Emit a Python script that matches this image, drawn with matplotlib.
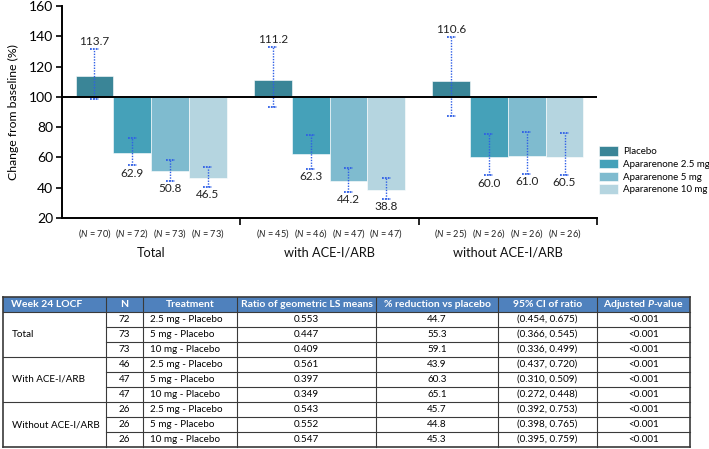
import matplotlib
matplotlib.use("Agg")
import matplotlib.pyplot as plt
from matplotlib.patches import Rectangle, Patch
import numpy as np

plt.rcParams['font.family'] = ['Lato', 'DejaVu Sans']
plt.rcParams['mathtext.fontset'] = 'custom'
plt.rcParams['mathtext.rm'] = 'Lato'
plt.rcParams['mathtext.it'] = 'Lato:italic'
plt.rcParams['mathtext.bf'] = 'Lato:bold'
plt.rcParams['mathtext.bfit'] = 'Lato:italic:bold'

# ---------------- data ----------------
groups = ["Total", "with ACE-I/ARB", "without ACE-I/ARB"]
treatments = ["Placebo", "Apararenone 2.5 mg", "Apararenone 5 mg", "Apararenone 10 mg"]
values = {
    "Placebo":            [113.7, 111.2, 110.6],
    "Apararenone 2.5 mg": [62.9, 62.3, 60.0],
    "Apararenone 5 mg":   [50.8, 44.2, 61.0],
    "Apararenone 10 mg":  [46.5, 38.8, 60.5],
}
ci_low = {
    "Placebo":            [98.5, 93.0, 87.5],
    "Apararenone 2.5 mg": [54.7, 52.3, 48.1],
    "Apararenone 5 mg":   [44.4, 37.4, 49.0],
    "Apararenone 10 mg":  [40.7, 32.7, 48.6],
}
ci_high = {
    "Placebo":            [131.4, 132.7, 139.3],
    "Apararenone 2.5 mg": [72.7, 74.5, 75.4],
    "Apararenone 5 mg":   [58.2, 53.0, 76.7],
    "Apararenone 10 mg":  [53.8, 46.2, 76.0],
}
n_counts = {
    "Placebo":            [70, 45, 25],
    "Apararenone 2.5 mg": [72, 46, 26],
    "Apararenone 5 mg":   [73, 47, 26],
    "Apararenone 10 mg":  [73, 47, 26],
}
baseline = 100
colors = ["#3a8597", "#45a1b9", "#7fbbcf", "#b5d5e0"]
yticks = [20, 40, 60, 80, 100, 120, 140, 160]

table_header = ["Week 24 LOCF", "N", "Treatment", "Ratio of geometric LS means",
                "% reduction vs placebo", "95% CI of ratio", r"Adjusted $\mathbfit{P}$-value"]
table_groups = ["Total", "With ACE-I/ARB", "Without ACE-I/ARB"]
table_n = [72, 73, 73, 46, 47, 47, 26, 26, 26]
table_treat = ["2.5 mg - Placebo", "5 mg - Placebo", "10 mg - Placebo"] * 3
table_ratio = ["0.553", "0.447", "0.409", "0.561", "0.397", "0.349", "0.543", "0.552", "0.547"]
table_red = ["44.7", "55.3", "59.1", "43.9", "60.3", "65.1", "45.7", "44.8", "45.3"]
table_ci = ["(0.454, 0.675)", "(0.366, 0.545)", "(0.336, 0.499)", "(0.437, 0.720)",
            "(0.310, 0.509)", "(0.272, 0.448)", "(0.392, 0.753)", "(0.398, 0.765)",
            "(0.395, 0.759)"]
table_p = ["<0.001"] * 9

# ---------------- figure ----------------
W, H = 709, 449
fig = plt.figure(figsize=(W / 100, H / 100), dpi=100)

def px_axes(l, t, r, b):
    return fig.add_axes([l / W, 1 - b / H, (r - l) / W, (b - t) / H])

ax = px_axes(62, 6, 597, 218)
bw = 0.212
x = np.arange(len(groups))
offsets = (np.arange(len(treatments)) - 1.5) * bw
ebcolor = "#2f5fe6"

for i, t in enumerate(treatments):
    xs = x + offsets[i]
    v = np.array(values[t])
    ax.bar(xs, v - baseline, bottom=baseline, width=bw, color=colors[i],
           edgecolor="white", linewidth=0.4, zorder=2)
    lo = np.array(ci_low[t]); hi = np.array(ci_high[t])
    ax.vlines(xs, lo, hi, colors=ebcolor, linestyles=(0, (1, 1)), linewidth=1.0, zorder=4)
    ax.hlines(np.concatenate([lo, hi]), np.concatenate([xs, xs]) - 0.025,
              np.concatenate([xs, xs]) + 0.025, colors=ebcolor,
              linestyles=(0, (1, 0.6)), linewidth=1.3, zorder=4)
    for j in range(len(groups)):
        if v[j] >= baseline:
            ax.annotate(f"{v[j]:.1f}", (xs[j], hi[j]), xytext=(0, 1.5),
                        textcoords="offset points", ha="center", va="bottom",
                        fontsize=8.5, color="#222222")
        else:
            ax.annotate(f"{v[j]:.1f}", (xs[j], lo[j]), xytext=(0, -1.5),
                        textcoords="offset points", ha="center", va="top",
                        fontsize=8.5, color="#222222")
        ax.text(xs[j], -0.072, f"($N$ = {n_counts[t][j]})", transform=ax.get_xaxis_transform(),
                ha="center", va="center", fontsize=6.6, color="#222222")

for j, g in enumerate(groups):
    ax.text(x[j], -0.165, g, transform=ax.get_xaxis_transform(),
            ha="center", va="center", fontsize=9.2, color="#111111")

ax.axhline(baseline, color="black", linewidth=1.4, zorder=5)
ax.set_xlim(-0.5, 2.5)
ax.set_ylim(20, 160)
ax.set_yticks(yticks)
ax.set_xticks([0.5, 1.5, 2.5])
ax.set_xticklabels([])
ax.tick_params(axis="y", labelsize=10, length=4.5, width=1.2, pad=2)
ax.tick_params(axis="x", length=5, width=1.2)
for s in ["top", "right"]:
    ax.spines[s].set_visible(False)
for s in ["left", "bottom"]:
    ax.spines[s].set_linewidth(1.4)
ax.set_ylabel("Change from baseline (%)", fontsize=8.8, labelpad=7)

handles = [Patch(facecolor=c, edgecolor="white", linewidth=0.4) for c in colors]
fig.legend(handles, treatments, loc="upper left",
           bbox_to_anchor=(599 / W, 1 - 146 / H), frameon=False, fontsize=7,
           handlelength=1.95, handleheight=1.13, labelspacing=0.28,
           handletextpad=0.5, borderpad=0, borderaxespad=0)

# ---------------- table ----------------
tax = fig.add_axes([0, 0, 1, 1])
tax.set_xlim(0, W)
tax.set_ylim(H, 0)
tax.axis("off")
cols = [3, 106, 143, 237, 376, 498, 597, 690]
top = 297
hh = 15
rh = 15
border = "#3a3a3a"
fs_body = 7.1
tax.add_patch(Rectangle((cols[0], top), cols[-1] - cols[0], hh, facecolor="#4f81bd",
                        edgecolor="none"))
for c in range(7):
    tax.text((cols[c] + cols[c + 1]) / 2 if c != 0 else cols[0] + 8, top + hh / 2,
             table_header[c], ha="center" if c != 0 else "left", va="center",
             color="white", fontsize=7.5, fontweight="bold")
nrows = len(table_n)
bottom = top + hh + nrows * rh
for c in cols:
    lw = 1.2 if c in (cols[0], cols[-1]) else 0.8
    tax.plot([c, c], [top, bottom], color=border, linewidth=lw)
tax.plot([cols[0], cols[-1]], [top, top], color=border, linewidth=1.2)
tax.plot([cols[0], cols[-1]], [bottom, bottom], color=border, linewidth=1.2)
for r in range(nrows):
    y0 = top + hh + r * rh
    xstart = cols[0] if r % 3 == 0 else cols[1]
    tax.plot([xstart, cols[-1]], [y0, y0], color=border, linewidth=0.8)
    yc = y0 + rh / 2
    tax.text((cols[1] + cols[2]) / 2, yc, str(table_n[r]), ha="center", va="center", fontsize=fs_body)
    tax.text(cols[2] + 7, yc, table_treat[r], ha="left", va="center", fontsize=fs_body)
    tax.text((cols[3] + cols[4]) / 2, yc, table_ratio[r], ha="center", va="center", fontsize=fs_body)
    tax.text((cols[4] + cols[5]) / 2, yc, table_red[r], ha="center", va="center", fontsize=fs_body)
    tax.text((cols[5] + cols[6]) / 2, yc, table_ci[r], ha="center", va="center", fontsize=fs_body)
    tax.text((cols[6] + cols[7]) / 2, yc, table_p[r], ha="center", va="center", fontsize=fs_body)
for g, name in enumerate(table_groups):
    yc = top + hh + (g * 3 + 1.5) * rh
    tax.text(cols[0] + 9, yc, name, ha="left", va="center", fontsize=fs_body)

fig.savefig("out.png", dpi=100)
